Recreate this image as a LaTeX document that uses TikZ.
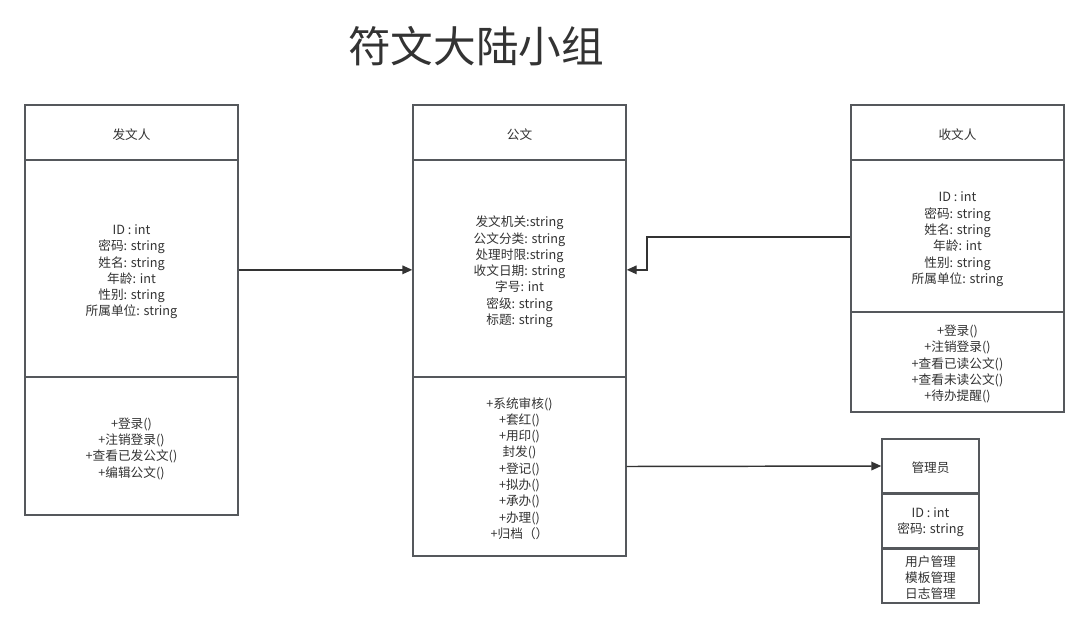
\documentclass[tikz,border=0pt]{standalone}
\usepackage{fontspec}
\setmainfont{Noto Sans CJK SC}
\usetikzlibrary{arrows.meta}
\definecolor{ln}{HTML}{55585C}
\definecolor{tx}{HTML}{333333}
\begin{document}
\begin{tikzpicture}[x=0.75pt,y=-0.75pt,
  comp/.style={draw=ln, line width=1.1pt, inner sep=0pt},
  txt/.style={inner sep=0pt, align=center, text=tx, font=\fontsize{9.5}{12.2}\selectfont},
  conn/.style={draw=tx, line width=1.1pt, -{Triangle[length=7.5pt,width=6.5pt]}}]
\useasboundingbox[fill=white] (0,0) rectangle (1089,628);
\node[text=tx, font=\fontsize{32}{38}\selectfont] (title) at (476,46) {符文大陆小组};
% 发文人
\node[comp, minimum width=213*0.75pt, minimum height=55*0.75pt] (fa1) at (131.5,132.5) {};
\node[comp, minimum width=213*0.75pt, minimum height=217*0.75pt] (fa2) at (131.5,268.5) {};
\node[comp, minimum width=213*0.75pt, minimum height=138*0.75pt] (fa3) at (131.5,446) {};
\node[txt] (fa1t) at ([yshift=-1.5pt]fa1.center) {发文人};
\node[txt] (fa2t) at ([yshift=-2.5pt]fa2.center)
  {ID : int\\密码: string\\姓名: string\\年龄: int\\性别: string\\所属单位: string};
\node[txt] (fa3t) at ([yshift=-2pt]fa3.center)
  {+登录()\\+注销登录()\\+查看已发公文()\\+编辑公文()};
% 公文
\node[comp, minimum width=213*0.75pt, minimum height=55*0.75pt] (gw1) at (519.5,132.5) {};
\node[comp, minimum width=213*0.75pt, minimum height=217*0.75pt] (gw2) at (519.5,268.5) {};
\node[comp, minimum width=213*0.75pt, minimum height=179*0.75pt] (gw3) at (519.5,466.5) {};
\node[txt] (gw1t) at ([yshift=-1.5pt]gw1.center) {公文};
\node[txt] (gw2t) at ([yshift=-2.5pt]gw2.center)
  {发文机关:string\\公文分类: string\\处理时限:string\\收文日期: string\\字号: int\\密级: string\\标题: string};
\node[txt] (gw3t) at ([yshift=-1.5pt]gw3.center)
  {+系统审核()\\+套红()\\+用印()\\封发()\\+登记()\\+拟办()\\+承办()\\+办理()\\+归档（）};
% 收文人
\node[comp, minimum width=213*0.75pt, minimum height=55*0.75pt] (sw1) at (957.5,132.5) {};
\node[comp, minimum width=213*0.75pt, minimum height=152*0.75pt] (sw2) at (957.5,236) {};
\node[comp, minimum width=213*0.75pt, minimum height=100*0.75pt] (sw3) at (957.5,362) {};
\node[txt] (sw1t) at ([yshift=-1.5pt]sw1.center) {收文人};
\node[txt] (sw2t) at ([yshift=-2.5pt]sw2.center)
  {ID : int\\密码: string\\姓名: string\\年龄: int\\性别: string\\所属单位: string};
\node[txt] (sw3t) at ([yshift=-1.5pt]sw3.center)
  {+登录()\\+注销登录()\\+查看已读公文()\\+查看未读公文()\\+待办提醒()};
% 管理员
\node[comp, minimum width=97*0.75pt, minimum height=54*0.75pt] (gl1) at (930.5,466) {};
\node[comp, minimum width=97*0.75pt, minimum height=55*0.75pt] (gl2) at (930.5,520.5) {};
\node[comp, minimum width=97*0.75pt, minimum height=55*0.75pt] (gl3) at (930.5,575.5) {};
\node[txt] (gl1t) at ([yshift=-1.5pt]gl1.center) {管理员};
\node[txt] (gl2t) at ([yshift=-1.5pt]gl2.center) {ID : int\\密码: string};
\node[txt] (gl3t) at ([yshift=-1.5pt]gl3.center) {用户管理\\模板管理\\日志管理};
\draw[ln, line width=2pt] (gl1.south west) -- (gl1.south east);
\draw[ln, line width=2pt] (gl2.south west) -- (gl2.south east);
% connectors
\coordinate (bend) at (647,237);
\draw[conn] ([yshift=-1pt]fa2.east) -- ([yshift=-1pt]gw2.west);
\draw[conn] (sw2.west |- bend) -- (bend) |- ([yshift=-1pt]gw2.east);
\draw[conn] (gw3.east) -- (gl1.west);
\end{tikzpicture}
\end{document}
